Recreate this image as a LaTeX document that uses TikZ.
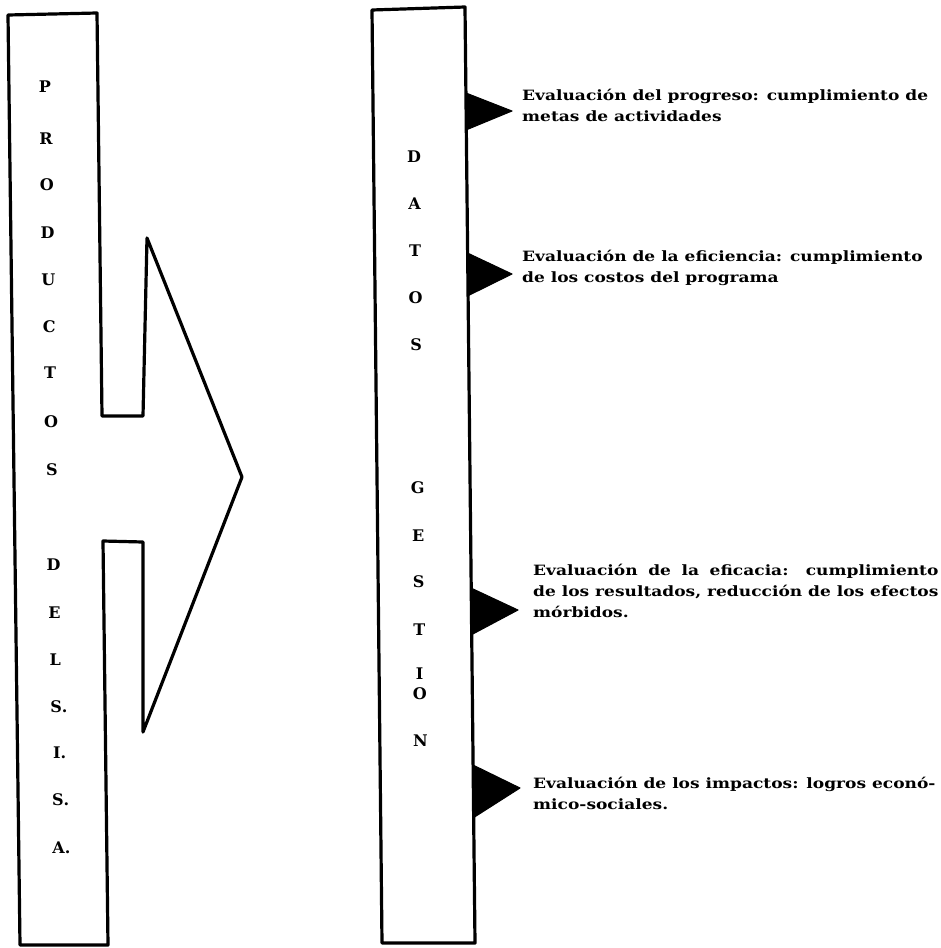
\documentclass[tikz,border=0pt]{standalone}
\usepackage{fontspec}
\newfontfamily\bodyfont{DejaVu Serif}[FakeStretch=1.2]
\newfontfamily\capfont{DejaVu Serif}
\newlength\effw
\newcommand\notesize{\bodyfont\bfseries\fontsize{14.2}{21}\selectfont}
\begin{document}
\settowidth{\effw}{\notesize de los resultados, reducción de los efectos}%
\begin{tikzpicture}[x=1pt,y=-1pt,
  outline/.style={line width=3.2pt, line join=round, line cap=round},
  flag/.style={fill=black, draw=black, line width=1pt, line join=round},
  vletter/.style={font=\capfont\bfseries\fontsize{16}{16}\selectfont, inner sep=0pt},
  note/.style={font=\notesize, align=left, inner sep=0pt, anchor=north west}]
\useasboundingbox (0,0) rectangle (941,948);

% left block with the arrow pointing right
\draw[outline] (8,15) -- (97,13) -- (102,416) -- (143,416) -- (147,238)
  -- (242,477) -- (143,732) -- (143,542) -- (103,541) -- (108,945)
  -- (20,945) -- cycle;

% right block
\draw[outline] (372,10) -- (465,7) -- (475,943) -- (382,943) -- cycle;

% black flags on the right edge
\fill[flag] (466,93) -- (512,111) -- (466,130) -- cycle;
\fill[flag] (467.5,253) -- (512,274) -- (467.5,296) -- cycle;
\fill[flag] (471,588) -- (518,610) -- (471,635) -- cycle;
\fill[flag] (473,765) -- (520,788) -- (473,818) -- cycle;

% vertical lettering, left block
\foreach \t/\y [count=\i] in {P/87,R/139,O/185,D/233,U/280,C/327,T/373,O/422,S/470,
    D/565,E/613,L/660,S\rlap{.}/707,I\rlap{.}/753,S\rlap{.}/800,A\rlap{.}/848}
  \node[vletter] (p\i) at ({45+(\y-87)*0.018},\y) {\t};

% vertical lettering, right block
\foreach \t/\y [count=\i] in {D/157,A/204,T/251,O/298,S/345,
    G/488,E/536,S/582,T/630,I/674,O/694,N/741}
  \node[vletter] (d\i) at ({414+(\y-157)*0.011},\y) {\t};

% notes beside the flags
\node[note] (n1) at (522,89) {Evaluación del progreso: cumplimiento de\\metas de actividades};
\node[note] (n2) at (522,250) {Evaluación de la eficiencia: cumplimiento\\de los costos del programa};
\node[note] (n3) at (533,564) {\makebox[\effw][s]{Evaluación de la eficacia: cumplimiento}\\de los resultados, reducción de los efectos\\mórbidos.};
\node[note] (n4) at (533,777) {Evaluación de los impactos: logros econó-\\mico-sociales.};
\end{tikzpicture}
\end{document}
